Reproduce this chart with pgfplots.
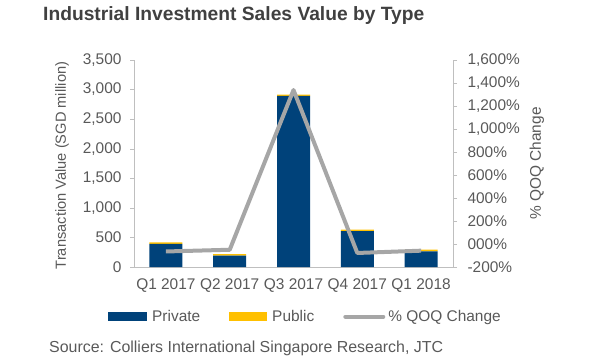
\documentclass[border=0pt]{standalone}
\usepackage{pgfplots}
\pgfplotsset{compat=1.18}
\usepackage{fontspec}
\setmainfont{Liberation Sans}
\definecolor{navy}{HTML}{00427A}
\definecolor{gold}{HTML}{FFC000}
\definecolor{lgray}{HTML}{A6A6A6}
\definecolor{txt}{HTML}{595959}
\definecolor{axgray}{HTML}{BFBFBF}
\begin{document}
\begin{tikzpicture}[x=1bp,y=1bp]
\useasboundingbox (0,0) rectangle (600,360);
\node[anchor=west,inner sep=0pt,font=\fontsize{19.3}{22}\selectfont\bfseries,text=black!75] at (43,344) {Industrial Investment Sales Value by Type};
\node[anchor=west,inner sep=0pt,font=\fontsize{16}{18}\selectfont,text=txt] at (49,12) {Source: Colliers International Singapore Research, JTC};
\begin{axis}[
  at={(134bp,93bp)}, anchor=south west,
  scale only axis, width=319bp, height=207bp,
  ybar stacked, bar width=33bp,
  xmin=-0.5, xmax=4.5, ymin=0, ymax=3500,
  xtick=data, xticklabels={Q1 2017,Q2 2017,Q3 2017,Q4 2017,Q1 2018},
  ytick={0,500,...,3500},
  axis x line*=bottom, axis y line*=left,
  x axis line style={draw=axgray,-}, y axis line style={draw=axgray,-},
  major x tick style={draw=none},
  major y tick style={draw=axgray}, tick align=outside, major tick length=4bp,
  /pgf/number format/assume math mode=true,
  /pgf/number format/1000 sep={,},
  tick label style={font=\fontsize{15.5}{17}\selectfont, text=txt},
  yticklabel style={xshift=-5bp},
  ylabel={Transaction Value (SGD million)},
  ylabel style={font=\fontsize{14.7}{16}\selectfont, text=txt, at={(axis description cs:-0.2257,0.49)}, anchor=center},
  xticklabel style={yshift=-4bp},
  legend style={at={(axis description cs:-0.0815,-0.24)}, anchor=west, legend columns=3, draw=none, fill=none, inner sep=0pt,
    font=\fontsize{15.5}{17}\selectfont, text=txt, /tikz/every even column/.append style={column sep=27bp}},
]
\addplot[fill=navy, draw=none, legend image code/.code={\fill[navy] (0bp,-4.5bp) rectangle (39bp,4.5bp);}] coordinates {(0,390) (1,191) (2,2892) (3,608) (4,263)};
\addlegendentry{\hspace{3bp}Private}
\addplot[fill=gold, draw=none, legend image code/.code={\fill[gold] (0bp,-4.5bp) rectangle (38bp,4.5bp);}] coordinates {(0,25) (1,28) (2,22) (3,22) (4,29)};
\addlegendentry{\hspace{3bp}Public}
\addlegendimage{legend image code/.code={\draw[lgray, line width=4bp, line cap=round] (1bp,0bp) -- (39bp,0bp);}}
\addlegendentry{\hspace{1bp}\% QOQ Change}
\end{axis}
\begin{axis}[
  at={(134bp,93bp)}, anchor=south west,
  scale only axis, width=319bp, height=207bp,
  xmin=-0.5, xmax=4.5, ymin=-200, ymax=1600,
  axis x line=none, axis y line*=right,
  y axis line style={draw=axgray,-},
  ytick={-200,0,...,1600},
  yticklabels={-200\%,000\%,200\%,400\%,600\%,800\%,{1,000\%},{1,200\%},{1,400\%},{1,600\%}},
  major y tick style={draw=axgray}, tick align=outside, major tick length=4bp,
  tick label style={font=\fontsize{15.5}{17}\selectfont, text=txt},
  yticklabel style={xshift=7bp},
  ylabel={\% QOQ Change},
  ylabel style={font=\fontsize{15.5}{17}\selectfont, text=txt, at={(axis description cs:1.263,0.5)}, anchor=center},
]
\addplot[lgray, line width=4bp, line join=round] coordinates {(0,-65) (1,-50) (2,1339) (3,-78) (4,-58)};
\end{axis}
\end{tikzpicture}
\end{document}
